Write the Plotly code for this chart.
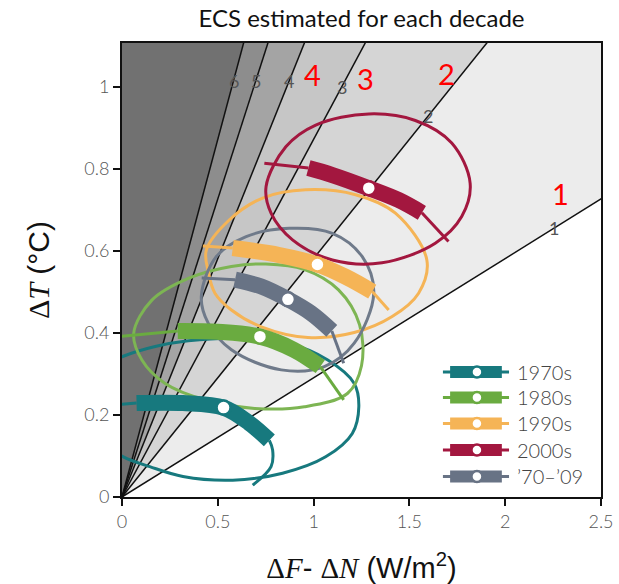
import plotly.graph_objects as go

# ---------------- data ----------------
F2X = 3.44  # forcing for CO2 doubling (W/m2)
ecs_values = [1, 2, 3, 4, 5, 6]
shade_colors = ["#ececec", "#d5d5d5", "#c6c6c6", "#a4a4a4", "#8d8d8d", "#717171"]

decades = ["1970s", "1980s", "1990s", "2000s", "\u201970\u2013\u201909"]
colors = ["#17797e", "#6aab40", "#f5b456", "#a3173f", "#687385"]
ell_colors = ["#17797e", "#7db553", "#f5b456", "#a3173f", "#6f7a8a"]

# confidence ellipses (first point repeated to close)
ell_1970s_x = [-0.15, -0.05, 0.0, 0.173, 0.346, 0.606, 0.866, 1.074, 1.212, 1.236, 1.202, 1.063, 0.838, 0.578, 0.318, 0.145, 0.007, -0.06, -0.15]
ell_1970s_y = [0.22, 0.33, 0.342, 0.367, 0.381, 0.387, 0.375, 0.334, 0.277, 0.220, 0.155, 0.098, 0.058, 0.041, 0.050, 0.074, 0.098, 0.12, 0.22]
ell_1980s_x = [0.061, 0.156, 0.346, 0.571, 0.75, 0.95, 1.13, 1.24, 1.25, 1.178, 0.952, 0.693, 0.433, 0.225, 0.104, 0.061]
ell_1980s_y = [0.399, 0.480, 0.533, 0.562, 0.568, 0.555, 0.505, 0.42, 0.32, 0.253, 0.220, 0.216, 0.237, 0.277, 0.334, 0.399]
ell_1990s_x = [0.44, 0.561, 0.734, 0.959, 1.219, 1.427, 1.591, 1.548, 1.41, 1.212, 0.97, 0.727, 0.571, 0.485, 0.45, 0.44]
ell_1990s_y = [0.602, 0.676, 0.729, 0.749, 0.737, 0.692, 0.578, 0.497, 0.44, 0.401, 0.389, 0.415, 0.456, 0.497, 0.55, 0.602]
ell_2000s_x = [0.752, 0.855, 1.011, 1.288, 1.531, 1.721, 1.817, 1.773, 1.635, 1.357, 1.098, 0.890, 0.778, 0.752]
ell_2000s_y = [0.757, 0.854, 0.907, 0.934, 0.918, 0.863, 0.765, 0.684, 0.619, 0.571, 0.578, 0.627, 0.692, 0.757]
ell_all_x = [0.414, 0.492, 0.648, 0.873, 1.098, 1.254, 1.314, 1.212, 1.056, 0.831, 0.571, 0.450, 0.414]
ell_all_y = [0.489, 0.586, 0.635, 0.655, 0.643, 0.586, 0.497, 0.375, 0.318, 0.310, 0.359, 0.424, 0.489]

# ranges: thin (5-95%) and thick (likely) segments
thin_l_1970s_x = [0.0, 0.076];  thin_l_1970s_y = [0.226, 0.229]
thick_1970s_x = [0.076, 0.318, 0.53, 0.665, 0.769];  thick_1970s_y = [0.229, 0.229, 0.218, 0.18, 0.138]
thin_r_1970s_x = [0.769, 0.786, 0.778, 0.682];  thin_r_1970s_y = [0.138, 0.115, 0.074, 0.029]

thin_l_1980s_x = [0.0, 0.291];  thin_l_1980s_y = [0.392, 0.405]
thick_1980s_x = [0.291, 0.499, 0.72, 0.897, 1.035];  thick_1980s_y = [0.405, 0.403, 0.391, 0.359, 0.318]
thin_r_1980s_x = [1.035, 1.157];  thin_r_1980s_y = [0.318, 0.237]

thin_l_1990s_x = [0.422, 0.578];  thin_l_1990s_y = [0.612, 0.607]
thick_1990s_x = [0.578, 0.821, 1.02, 1.167, 1.306];  thick_1990s_y = [0.607, 0.590, 0.567, 0.537, 0.501]
thin_r_1990s_x = [1.306, 1.392];  thin_r_1990s_y = [0.501, 0.456]

thin_l_2000s_x = [0.743, 0.973];  thin_l_2000s_y = [0.814, 0.802]
thick_2000s_x = [0.973, 1.098, 1.288, 1.444, 1.565];  thick_2000s_y = [0.802, 0.785, 0.753, 0.724, 0.693]
thin_r_2000s_x = [1.565, 1.704];  thin_r_2000s_y = [0.693, 0.623]

thin_l_all_x = [0.416, 0.59];  thin_l_all_y = [0.534, 0.53]
thick_all_x = [0.59, 0.727, 0.866, 0.987, 1.095];  thick_all_y = [0.53, 0.513, 0.482, 0.448, 0.405]
thin_r_all_x = [1.095, 1.157];  thin_r_all_y = [0.405, 0.326]

best_x = [0.53, 0.72, 1.02, 1.288, 0.866]
best_y = [0.218, 0.391, 0.567, 0.753, 0.482]

x_ticks = [0, 0.5, 1, 1.5, 2, 2.5]
x_ticktext = ["0", "0.5", "1", "1.5", "2", "2.5"]
y_ticks = [0, 0.2, 0.4, 0.6, 0.8, 1.0]
y_ticktext = ["0", "0.2", "0.4", "0.6", "0.8", "1"]

line_label_ecs = [6, 5, 4, 3, 2, 1]
line_label_y = [1.015, 1.015, 1.015, 1.0, 0.928, 0.656]
red_labels = ["4", "3", "2", "1"]
red_label_x = [0.995, 1.271, 1.692, 2.289]
red_label_y = [1.029, 1.021, 1.032, 0.741]

X_MAX, Y_MAX = 2.5, 1.107

# ---------------- figure ----------------
fig = go.Figure()

# shaded ECS wedges
far = 10.0
slopes = [e / F2X for e in ecs_values]
for i, s in enumerate(slopes):
    if i + 1 < len(slopes):
        s2 = slopes[i + 1]
        xs = [0, far, far * s / s2, 0]
        ys = [0, s * far, s * far, 0]
    else:
        xs = [0, far, 0, 0]
        ys = [0, s * far, s * far, 0]
    fig.add_trace(go.Scatter(x=xs, y=ys, mode="lines", fill="toself",
                             fillcolor=shade_colors[i], line=dict(width=0),
                             hoverinfo="skip", showlegend=False))

# ECS lines
for s in slopes:
    fig.add_trace(go.Scatter(x=[0, far], y=[0, s * far], mode="lines",
                             line=dict(color="#111111", width=1.5),
                             hoverinfo="skip", showlegend=False))

ells = [(ell_1970s_x, ell_1970s_y), (ell_1980s_x, ell_1980s_y), (ell_1990s_x, ell_1990s_y),
        (ell_2000s_x, ell_2000s_y), (ell_all_x, ell_all_y)]
thin_ls = [(thin_l_1970s_x, thin_l_1970s_y), (thin_l_1980s_x, thin_l_1980s_y), (thin_l_1990s_x, thin_l_1990s_y),
           (thin_l_2000s_x, thin_l_2000s_y), (thin_l_all_x, thin_l_all_y)]
thicks = [(thick_1970s_x, thick_1970s_y), (thick_1980s_x, thick_1980s_y), (thick_1990s_x, thick_1990s_y),
          (thick_2000s_x, thick_2000s_y), (thick_all_x, thick_all_y)]
thin_rs = [(thin_r_1970s_x, thin_r_1970s_y), (thin_r_1980s_x, thin_r_1980s_y), (thin_r_1990s_x, thin_r_1990s_y),
           (thin_r_2000s_x, thin_r_2000s_y), (thin_r_all_x, thin_r_all_y)]

order = [0, 1, 2, 4, 3]
for i in order:
    ex, ey = ells[i]
    fig.add_trace(go.Scatter(x=ex, y=ey, mode="lines",
                             line=dict(color=ell_colors[i], width=3, shape="spline", smoothing=1.0),
                             hoverinfo="skip", showlegend=False))
for i in order:
    c = colors[i]
    for (tx, ty) in (thin_ls[i], thin_rs[i]):
        fig.add_trace(go.Scatter(x=tx, y=ty, mode="lines", line=dict(color=c, width=3, shape="spline"),
                                 hoverinfo="skip", showlegend=False))
    kx, ky = thicks[i]
    fig.add_trace(go.Scatter(x=kx, y=ky, mode="lines", line=dict(color=c, width=16, shape="spline"),
                             hoverinfo="skip", showlegend=False))
    fig.add_trace(go.Scatter(x=[best_x[i]], y=[best_y[i]], mode="markers",
                             marker=dict(size=14, color="white", line=dict(color=c, width=2.5)),
                             name=decades[i], showlegend=False))

annotations = []
# small ECS line labels
for e, yv in zip(line_label_ecs, line_label_y):
    annotations.append(dict(x=yv * F2X / e, y=yv, xref="x", yref="y", text=str(e), showarrow=False,
                            font=dict(family="Lato", size=18, color="#555555")))
# red labels
for t, xv, yv in zip(red_labels, red_label_x, red_label_y):
    annotations.append(dict(x=xv, y=yv, xref="x", yref="y", text=t, showarrow=False,
                            font=dict(family="Lato", size=29, color="#ff0000")))

# manual legend (paper coordinates)
leg_rows_y = [0.2753, 0.2192, 0.1619, 0.1035, 0.0452]
shapes = []
for i, ly in enumerate(leg_rows_y):
    c = colors[i]
    shapes.append(dict(type="line", xref="paper", yref="paper", x0=0.670, x1=0.808, y0=ly, y1=ly,
                       line=dict(color=c, width=3)))
    shapes.append(dict(type="line", xref="paper", yref="paper", x0=0.685, x1=0.793, y0=ly, y1=ly,
                       line=dict(color=c, width=12)))
    shapes.append(dict(type="circle", xref="paper", yref="paper", xsizemode="pixel", ysizemode="pixel",
                       xanchor=0.741, yanchor=ly, x0=-5.5, x1=5.5, y0=-5.5, y1=5.5,
                       fillcolor="white", line=dict(color=c, width=2.5)))
    annotations.append(dict(x=0.8205, y=ly, xref="paper", yref="paper", xanchor="left", yanchor="middle",
                            text=decades[i], showarrow=False,
                            font=dict(family="Lato", size=20, color="#444444", weight=300)))

tickfont = dict(family="Lato", size=18, color="#555555", weight=300)
fig.update_layout(
    width=619, height=584,
    margin=dict(l=122, r=18, t=43, b=87),
    paper_bgcolor="white", plot_bgcolor="white",
    title=dict(text="ECS estimated for each decade", x=0.5, xref="paper", xanchor="center",
               y=0.969, yref="container", yanchor="middle",
               font=dict(family="Lato", size=24, color="#111111")),
    xaxis=dict(range=[0, X_MAX], tickvals=x_ticks, ticktext=x_ticktext, ticks="outside", ticklen=7,
               tickwidth=2, tickcolor="#111111", showline=True, linecolor="#111111", linewidth=2,
               mirror=True, showgrid=False, zeroline=False, tickfont=tickfont, automargin=False,
               title=dict(text="<span style='font-family:Liberation Serif'>\u0394<i>F</i></span>- "
                               "<span style='font-family:Liberation Serif'>\u0394<i>N</i></span> (W/m<sup>2</sup>)",
                          font=dict(family="Liberation Sans", size=29, color="#111111"), standoff=28)),
    yaxis=dict(range=[0, Y_MAX], tickvals=y_ticks, ticktext=y_ticktext, ticks="outside", ticklen=7,
               tickwidth=2, tickcolor="#111111", showline=True, linecolor="#111111", linewidth=2,
               mirror=True, showgrid=False, zeroline=False, tickfont=tickfont, automargin=False,
               title=dict(text="<span style='font-family:Liberation Serif'>\u0394<i>T</i></span> (\u00b0C)",
                          font=dict(family="Liberation Sans", size=30, color="#111111"), standoff=26)),
    annotations=annotations,
    shapes=shapes,
    showlegend=False,
)

fig.write_html("out.html")
